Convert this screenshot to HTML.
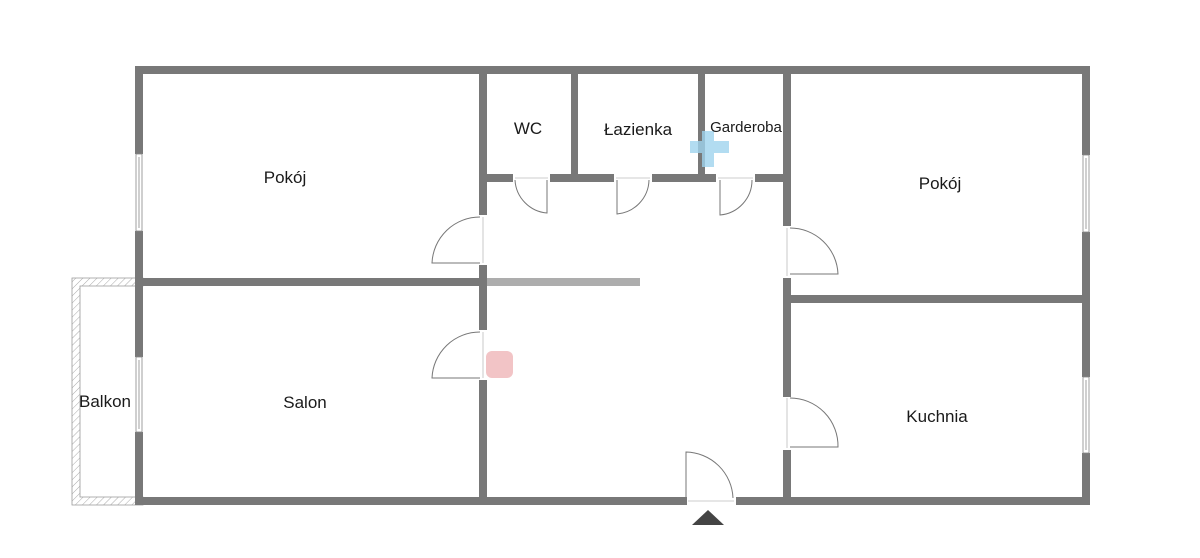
<!DOCTYPE html>
<html><head><meta charset="utf-8"><style>
html,body{margin:0;padding:0;background:#fff;width:1200px;height:558px;overflow:hidden}
svg{display:block}
text{font-family:"Liberation Sans",sans-serif;fill:#1a1a1a}
</style></head><body>
<svg width="1200" height="558" viewBox="0 0 1200 558" xmlns="http://www.w3.org/2000/svg">
<defs>
<pattern id="h" width="5" height="5" patternUnits="userSpaceOnUse" patternTransform="rotate(45)">
<rect width="5" height="5" fill="#fff"/><line x1="0" y1="0" x2="0" y2="5" stroke="#aaa" stroke-width="1"/>
</pattern>
</defs>
<path d="M72 278 H143 V286 H80 V497 H143 V505 H72 Z" fill="url(#h)" stroke="#999" stroke-width="0.8"/>
<g fill="#787878">
<rect x="135" y="66" width="955" height="8"/>
<rect x="135" y="66" width="8" height="88"/>
<rect x="135" y="231" width="8" height="126"/>
<rect x="135" y="432" width="8" height="73"/>
<rect x="135" y="497" width="552" height="8"/>
<rect x="736" y="497" width="354" height="8"/>
<rect x="1082" y="66" width="8" height="89"/>
<rect x="1082" y="232" width="8" height="145"/>
<rect x="1082" y="453" width="8" height="52"/>
<rect x="479" y="66" width="8" height="149"/>
<rect x="479" y="265" width="8" height="65"/>
<rect x="479" y="380" width="8" height="125"/>
<rect x="135" y="278" width="352" height="8"/>
<rect x="571" y="66" width="7" height="116"/>
<rect x="698" y="66" width="7" height="116"/>
<rect x="783" y="66" width="8" height="160"/>
<rect x="783" y="278" width="8" height="119"/>
<rect x="783" y="450" width="8" height="55"/>
<rect x="487" y="174" width="26" height="8"/>
<rect x="550" y="174" width="64" height="8"/>
<rect x="652" y="174" width="64" height="8"/>
<rect x="755" y="174" width="32" height="8"/>
<rect x="787" y="295" width="303" height="8"/>
</g>
<rect x="487" y="278" width="153" height="8" fill="#8a8a8a" opacity="0.7"/>
<g fill="#fff" stroke="#888" stroke-width="0.8">
<rect x="136" y="154" width="6" height="77"/><line x1="139" y1="157" x2="139" y2="228"/>
<rect x="136" y="357" width="6" height="75"/><line x1="139" y1="360" x2="139" y2="429"/>
<rect x="1083" y="155" width="6" height="77"/><line x1="1086" y1="158" x2="1086" y2="229"/>
<rect x="1083" y="377" width="6" height="76"/><line x1="1086" y1="380" x2="1086" y2="450"/>
</g>
<g fill="none" stroke="#777" stroke-width="1">
<path d="M480 217 A48 48 0 0 0 432 263 H480"/>
<path d="M480 332 A48 48 0 0 0 432 378 H480"/>
<path d="M790 228 A48 48 0 0 1 838 274 H790"/>
<path d="M790 398 A48 48 0 0 1 838 447 H790"/>
<path d="M686 498 V452 A48 48 0 0 1 733 498"/>
<path d="M515 180 A35 35 0 0 0 547 213 V180"/>
<path d="M617 180 V214 A35 35 0 0 0 649 180"/>
<path d="M720 180 V215 A35 35 0 0 0 752 180"/>
</g>
<g fill="none" stroke="#bbb" stroke-width="0.8">
<line x1="483" y1="217" x2="483" y2="263"/><line x1="483" y1="332" x2="483" y2="378"/>
<line x1="787" y1="228" x2="787" y2="276"/><line x1="787" y1="398" x2="787" y2="448"/>
<line x1="688" y1="501" x2="734" y2="501"/>
<line x1="515" y1="178" x2="548" y2="178"/><line x1="616" y1="178" x2="650" y2="178"/><line x1="718" y1="178" x2="753" y2="178"/>
</g>
<polygon points="692,525 708,510 724,525" fill="#444"/>
<path d="M702 131 h12 v10 h15 v12 h-15 v14 h-12 v-14 h-12 v-12 h12z" fill="#9fd3ee" opacity="0.8"/>
<rect x="486" y="351" width="27" height="27" rx="6" fill="#f2c4c6"/>
<text x="285" y="183" font-size="17" text-anchor="middle">Pokój</text>
<text x="528" y="134" font-size="17" text-anchor="middle">WC</text>
<text x="638" y="135" font-size="17" text-anchor="middle">Łazienka</text>
<text x="746" y="132" font-size="15" text-anchor="middle">Garderoba</text>
<text x="940" y="189" font-size="17" text-anchor="middle">Pokój</text>
<text x="305" y="408" font-size="17" text-anchor="middle">Salon</text>
<text x="937" y="422" font-size="17" text-anchor="middle">Kuchnia</text>
<text x="105" y="407" font-size="17" text-anchor="middle">Balkon</text>
</svg>
</body></html>
